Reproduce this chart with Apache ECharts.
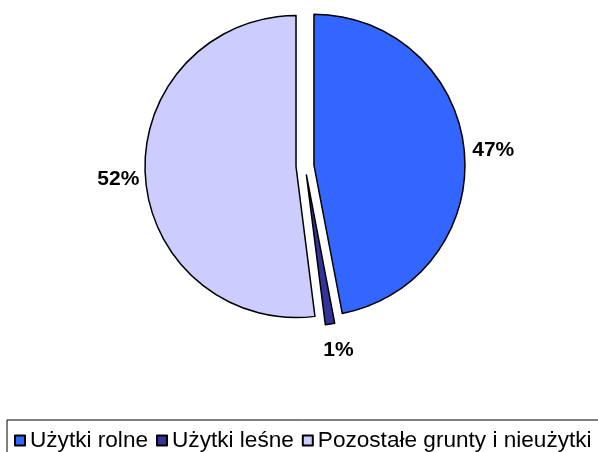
<!DOCTYPE html>
<html>
<head>
<meta charset="utf-8">
<script src="https://cdn.jsdelivr.net/npm/echarts@6/dist/echarts.min.js"></script>
<style>
  html, body { margin: 0; padding: 0; background: #fff; }
  #landUseChart { width: 598px; height: 452px; }
</style>
</head>
<body>
<div id="landUseChart"></div>
<script>
const categories = ['Użytki rolne', 'Użytki leśne', 'Pozostałe grunty i nieużytki']
const shares = [47, 1, 52]
const colors = ['#3366FF', '#333399', '#CCCCFF']

let landUseChart = echarts.init(document.getElementById('landUseChart'))

let option = {
  animation: false,
  legend: {
    left: 7,
    top: 420,
    width: 700, // keep it on one row, the box runs off the right edge like the original
    padding: [9, 7, 8, 7],
    borderColor: '#000',
    borderWidth: 1,
    itemWidth: 10,
    itemHeight: 10,
    itemGap: 8,
    icon: 'rect',
    selectedMode: false,
    textStyle: {
      fontFamily: 'Liberation Sans, Arial, sans-serif',
      fontSize: 22.6,
      color: '#000'
    },
    data: categories
  },
  series: [
    {
      type: 'pie',
      center: [305, 166],
      radius: 151,
      startAngle: 90,
      clockwise: true,
      selectedMode: 'multiple',
      selectedOffset: 9,
      emphasis: { disabled: true },
      itemStyle: {
        borderColor: '#000',
        borderWidth: 1.5
      },
      label: {
        position: 'outside',
        formatter: '{c}%',
        fontFamily: 'Liberation Sans, Arial, sans-serif',
        fontWeight: 'bold',
        fontSize: 21,
        color: '#000'
      },
      labelLine: {
        show: false,
        length: 8,
        length2: 0
      },
      // small nudges so the labels sit where the original put them
      labelLayout: function (params) {
        if (params.dataIndex === 0) return { dx: -5 }
        if (params.dataIndex === 1) return { dx: -13, dy: 18 }
        return { dx: 7, dy: 3 }
      },
      data: categories.map((name, i) => ({
        name: name,
        value: shares[i],
        selected: true,
        itemStyle: { color: colors[i] }
      }))
    }
  ]
}

landUseChart.setOption(option)
</script>
</body>
</html>
